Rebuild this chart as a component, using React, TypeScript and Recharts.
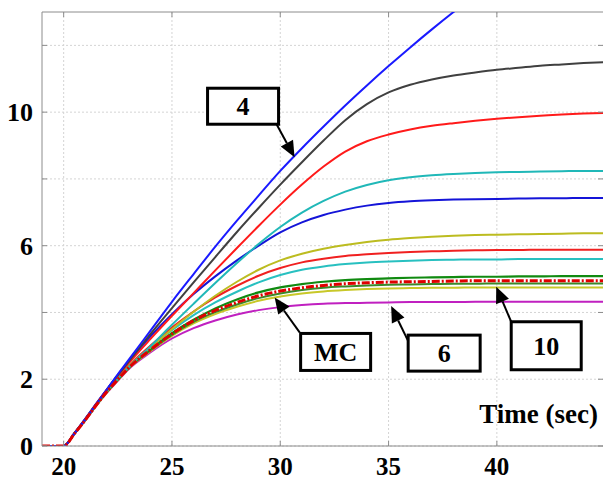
import React from 'react';
import { LineChart, Line, XAxis, YAxis, CartesianGrid, ReferenceLine, ReferenceDot, Label } from 'recharts';

// ---------- data ----------
const xs = [19, 20, 20.5, 21, 21.5, 22, 22.5, 23, 24, 25, 26, 27, 28, 29, 30, 31, 32, 33, 34, 35, 36, 37, 38, 39, 40, 41, 42, 43, 44, 45];

const blueTop = [0, 0, 0.38, 0.8, 1.25, 1.7, 2.15, 2.58, 3.45, 4.32, 5.15, 5.97, 6.75, 7.5, 8.24, 8.92, 9.57, 10.2, 10.8, 11.38, 11.94, 12.48, 13.0, 13.5, 14.0, 14.48, 14.95, 15.4, 15.85, 16.3];
const blackS = [0, 0, 0.38, 0.8, 1.25, 1.69, 2.12, 2.53, 3.35, 4.13, 4.9, 5.66, 6.41, 7.13, 7.83, 8.5, 9.15, 9.76, 10.24, 10.59, 10.82, 10.98, 11.1, 11.19, 11.27, 11.33, 11.39, 11.43, 11.47, 11.5];
const redTop = [0, 0, 0.38, 0.8, 1.25, 1.68, 2.1, 2.48, 3.2, 3.9, 4.58, 5.26, 5.93, 6.59, 7.23, 7.83, 8.37, 8.82, 9.13, 9.33, 9.48, 9.59, 9.67, 9.74, 9.8, 9.85, 9.89, 9.93, 9.96, 9.98];
const cyanTop = [0, 0, 0.38, 0.8, 1.24, 1.66, 2.02, 2.36, 2.98, 3.63, 4.26, 4.88, 5.48, 6.05, 6.56, 6.99, 7.34, 7.62, 7.82, 7.96, 8.05, 8.11, 8.15, 8.18, 8.2, 8.21, 8.22, 8.23, 8.24, 8.24];
const blue2 = [0, 0, 0.39, 0.82, 1.27, 1.7, 2.12, 2.52, 3.28, 3.95, 4.55, 5.08, 5.56, 6.0, 6.4, 6.7, 6.92, 7.08, 7.2, 7.28, 7.33, 7.36, 7.38, 7.39, 7.4, 7.41, 7.42, 7.42, 7.43, 7.43];
const olive = [0, 0, 0.38, 0.8, 1.24, 1.66, 2.03, 2.38, 2.95, 3.5, 4.02, 4.5, 4.92, 5.28, 5.56, 5.76, 5.91, 6.02, 6.11, 6.18, 6.23, 6.27, 6.3, 6.32, 6.33, 6.34, 6.35, 6.36, 6.37, 6.37];
const redMid = [0, 0, 0.38, 0.8, 1.24, 1.66, 2.04, 2.4, 3.0, 3.55, 4.03, 4.45, 4.8, 5.1, 5.33, 5.5, 5.61, 5.69, 5.74, 5.78, 5.81, 5.83, 5.85, 5.86, 5.87, 5.87, 5.88, 5.88, 5.88, 5.88];
const cyanMid = [0, 0, 0.38, 0.8, 1.24, 1.66, 2.02, 2.38, 2.95, 3.47, 3.92, 4.3, 4.62, 4.9, 5.12, 5.28, 5.38, 5.45, 5.5, 5.53, 5.55, 5.57, 5.58, 5.59, 5.59, 5.6, 5.6, 5.6, 5.6, 5.6];
const greenS = [0, 0, 0.38, 0.79, 1.23, 1.64, 2.0, 2.36, 2.9, 3.38, 3.78, 4.12, 4.39, 4.6, 4.75, 4.85, 4.92, 4.97, 5.0, 5.02, 5.04, 5.05, 5.06, 5.07, 5.07, 5.08, 5.08, 5.09, 5.09, 5.09];
const mcS = [0, 0, 0.37, 0.78, 1.22, 1.63, 1.99, 2.34, 2.88, 3.36, 3.76, 4.06, 4.3, 4.5, 4.64, 4.74, 4.81, 4.86, 4.89, 4.91, 4.92, 4.93, 4.94, 4.95, 4.95, 4.95, 4.95, 4.95, 4.95, 4.95];
const green2 = [0, 0, 0.37, 0.78, 1.22, 1.62, 1.98, 2.33, 2.86, 3.33, 3.72, 4.01, 4.24, 4.43, 4.57, 4.67, 4.74, 4.78, 4.81, 4.83, 4.84, 4.85, 4.86, 4.86, 4.87, 4.87, 4.87, 4.87, 4.87, 4.87];
const yellowS = [0, 0, 0.37, 0.77, 1.21, 1.61, 1.97, 2.32, 2.84, 3.3, 3.67, 3.95, 4.17, 4.35, 4.48, 4.57, 4.63, 4.67, 4.7, 4.72, 4.73, 4.74, 4.74, 4.75, 4.75, 4.75, 4.75, 4.75, 4.75, 4.75];
const magentaS = [0, 0, 0.37, 0.77, 1.2, 1.6, 1.95, 2.3, 2.8, 3.22, 3.53, 3.76, 3.94, 4.07, 4.16, 4.22, 4.26, 4.28, 4.29, 4.3, 4.31, 4.31, 4.31, 4.32, 4.32, 4.32, 4.32, 4.32, 4.32, 4.32];

const xTicks = [20, 25, 30, 35, 40];
const yTicks = [0, 2, 4, 6, 8, 10, 12];
const yLabels = [0, 2, 6, 10];

// annotation anchors (arrow tips in data units)
const annText = ['4', 'MC', '6', '10'];
const annX = [30.66, 29.74, 35.12, 39.97];
const annY = [8.65, 4.45, 4.19, 4.77];

// ---------- styling / layout ----------
const series = [
  { key: 'magenta', data: magentaS, color: '#c020c0', w: 2 },
  { key: 'yellow', data: yellowS, color: '#c8c828', w: 2 },
  { key: 'green2', data: green2, color: '#3a8a2a', w: 2 },
  { key: 'green', data: greenS, color: '#108a10', w: 2.2 },
  { key: 'cyanMid', data: cyanMid, color: '#28c0c0', w: 2 },
  { key: 'redMid', data: redMid, color: '#f02020', w: 2 },
  { key: 'olive', data: olive, color: '#bcbc20', w: 2 },
  { key: 'blue2', data: blue2, color: '#1414d8', w: 2 },
  { key: 'cyanTop', data: cyanTop, color: '#20b8b8', w: 2 },
  { key: 'redTop', data: redTop, color: '#ff1a1a', w: 2 },
  { key: 'black', data: blackS, color: '#404040', w: 2 },
  { key: 'blueTop', data: blueTop, color: '#1a1aff', w: 2 },
];

const rows = xs.map((x, i) => {
  const r: any = { x };
  series.forEach((s) => (r[s.key] = s.data[i]));
  r.mc = mcS[i];
  return r;
});

const FONT = "'Liberation Serif', 'Times New Roman', serif";
const PLOT_W = 561;
const PLOT_H = 434;
const AXIS = '#8c8c8c';

// box offsets relative to arrow tip: [left, top, width, height, tailX, tailY]
const annGeom = [
  [-87, -69, 71, 36, -18, -33],
  [26, 36, 70, 37, 25, 35],
  [17, 29, 72, 36, 18, 37],
  [15, 35, 70, 48, 15, 35],
];

const YTick = (p: any) => {
  const { x, y, payload } = p;
  const v = payload.value;
  return (
    <g>
      <line x1={x} x2={x + 5} y1={y} y2={y} stroke={AXIS} strokeWidth={1} />
      <line x1={x + PLOT_W - 5} x2={x + PLOT_W} y1={y} y2={y} stroke={AXIS} strokeWidth={1} />
      {yLabels.includes(v) && (
        <text x={x - 9} y={y + 9} textAnchor="end" fontFamily={FONT} fontWeight="bold" fontSize={26} fill="#000">
          {v}
        </text>
      )}
    </g>
  );
};

const XTick = (p: any) => {
  const { x, y, payload } = p;
  return (
    <g>
      <line x1={x} x2={x} y1={y} y2={y - 5} stroke={AXIS} strokeWidth={1} />
      <line x1={x} x2={x} y1={y - PLOT_H} y2={y - PLOT_H + 5} stroke={AXIS} strokeWidth={1} />
      <text x={x} y={y + 29} textAnchor="middle" fontFamily={FONT} fontWeight="bold" fontSize={25} fill="#000">
        {payload.value}
      </text>
    </g>
  );
};

const makeAnn = (i: number) => (p: any) => {
  const { cx, cy } = p;
  if (cx == null || cy == null) return <g />;
  const [l, t, w, h, tx, ty] = annGeom[i];
  const ax = cx + tx;
  const ay = cy + ty;
  const ang = Math.atan2(cy - ay, cx - ax);
  const L = 16;
  const hw = 7;
  const bx = cx - L * Math.cos(ang);
  const by = cy - L * Math.sin(ang);
  const px = -Math.sin(ang) * hw;
  const py = Math.cos(ang) * hw;
  return (
    <g>
      <line x1={ax} y1={ay} x2={bx} y2={by} stroke="#000" strokeWidth={2} />
      <polygon points={`${cx},${cy} ${bx + px},${by + py} ${bx - px},${by - py}`} fill="#000" />
      <rect x={cx + l} y={cy + t} width={w} height={h} fill="#fff" stroke="#000" strokeWidth={3} />
      <text x={cx + l + w / 2} y={cy + t + h / 2 + 9} textAnchor="middle" fontFamily={FONT} fontWeight="bold" fontSize={26} fill="#000">
        {annText[i]}
      </text>
    </g>
  );
};

const TimeLabel = (p: any) => {
  const vb = p.viewBox || { x: 42, y: 446, width: 561 };
  return (
    <text x={vb.x + vb.width - 5} y={vb.y - 23} textAnchor="end" fontFamily={FONT} fontWeight="bold" fontSize={27} fill="#000">
      Time (sec)
    </text>
  );
};

export default function App() {
  return (
    <div style={{ position: 'absolute', left: 0, top: 0, width: 603, height: 481, background: '#fff', overflow: 'hidden' }}>
      <LineChart width={603} height={481} data={rows} margin={{ top: 12, right: 0, bottom: 0, left: 0 }}>
        <CartesianGrid stroke="#d4d4d4" strokeDasharray="2 2" verticalValues={xTicks} horizontalValues={yTicks} />
        <XAxis
          type="number"
          dataKey="x"
          domain={[19, 44.9]}
          allowDataOverflow
          ticks={xTicks}
          tick={<XTick />}
          tickSize={0}
          tickMargin={0}
          height={35}
          axisLine={{ stroke: AXIS }}
          tickLine={false}
        >
          <Label content={<TimeLabel />} />
        </XAxis>
        <YAxis
          type="number"
          domain={[0, 13]}
          allowDataOverflow
          ticks={yTicks}
          tick={<YTick />}
          tickSize={0}
          tickMargin={0}
          width={42}
          axisLine={{ stroke: AXIS }}
          tickLine={false}
          interval={0}
        />
        <ReferenceLine y={13} stroke={AXIS} />
        {series.map((s) => (
          <Line key={s.key} type="monotone" dataKey={s.key} stroke={s.color} strokeWidth={s.w} dot={false} isAnimationActive={false} />
        ))}
        <Line type="monotone" dataKey="mc" stroke="#e00000" strokeWidth={3} strokeDasharray="8 2 2 2" dot={false} isAnimationActive={false} />
        {annText.map((t, i) => (
          <ReferenceDot key={t} x={annX[i]} y={annY[i]} r={0} ifOverflow="visible" shape={makeAnn(i)} />
        ))}
      </LineChart>
    </div>
  );
}
